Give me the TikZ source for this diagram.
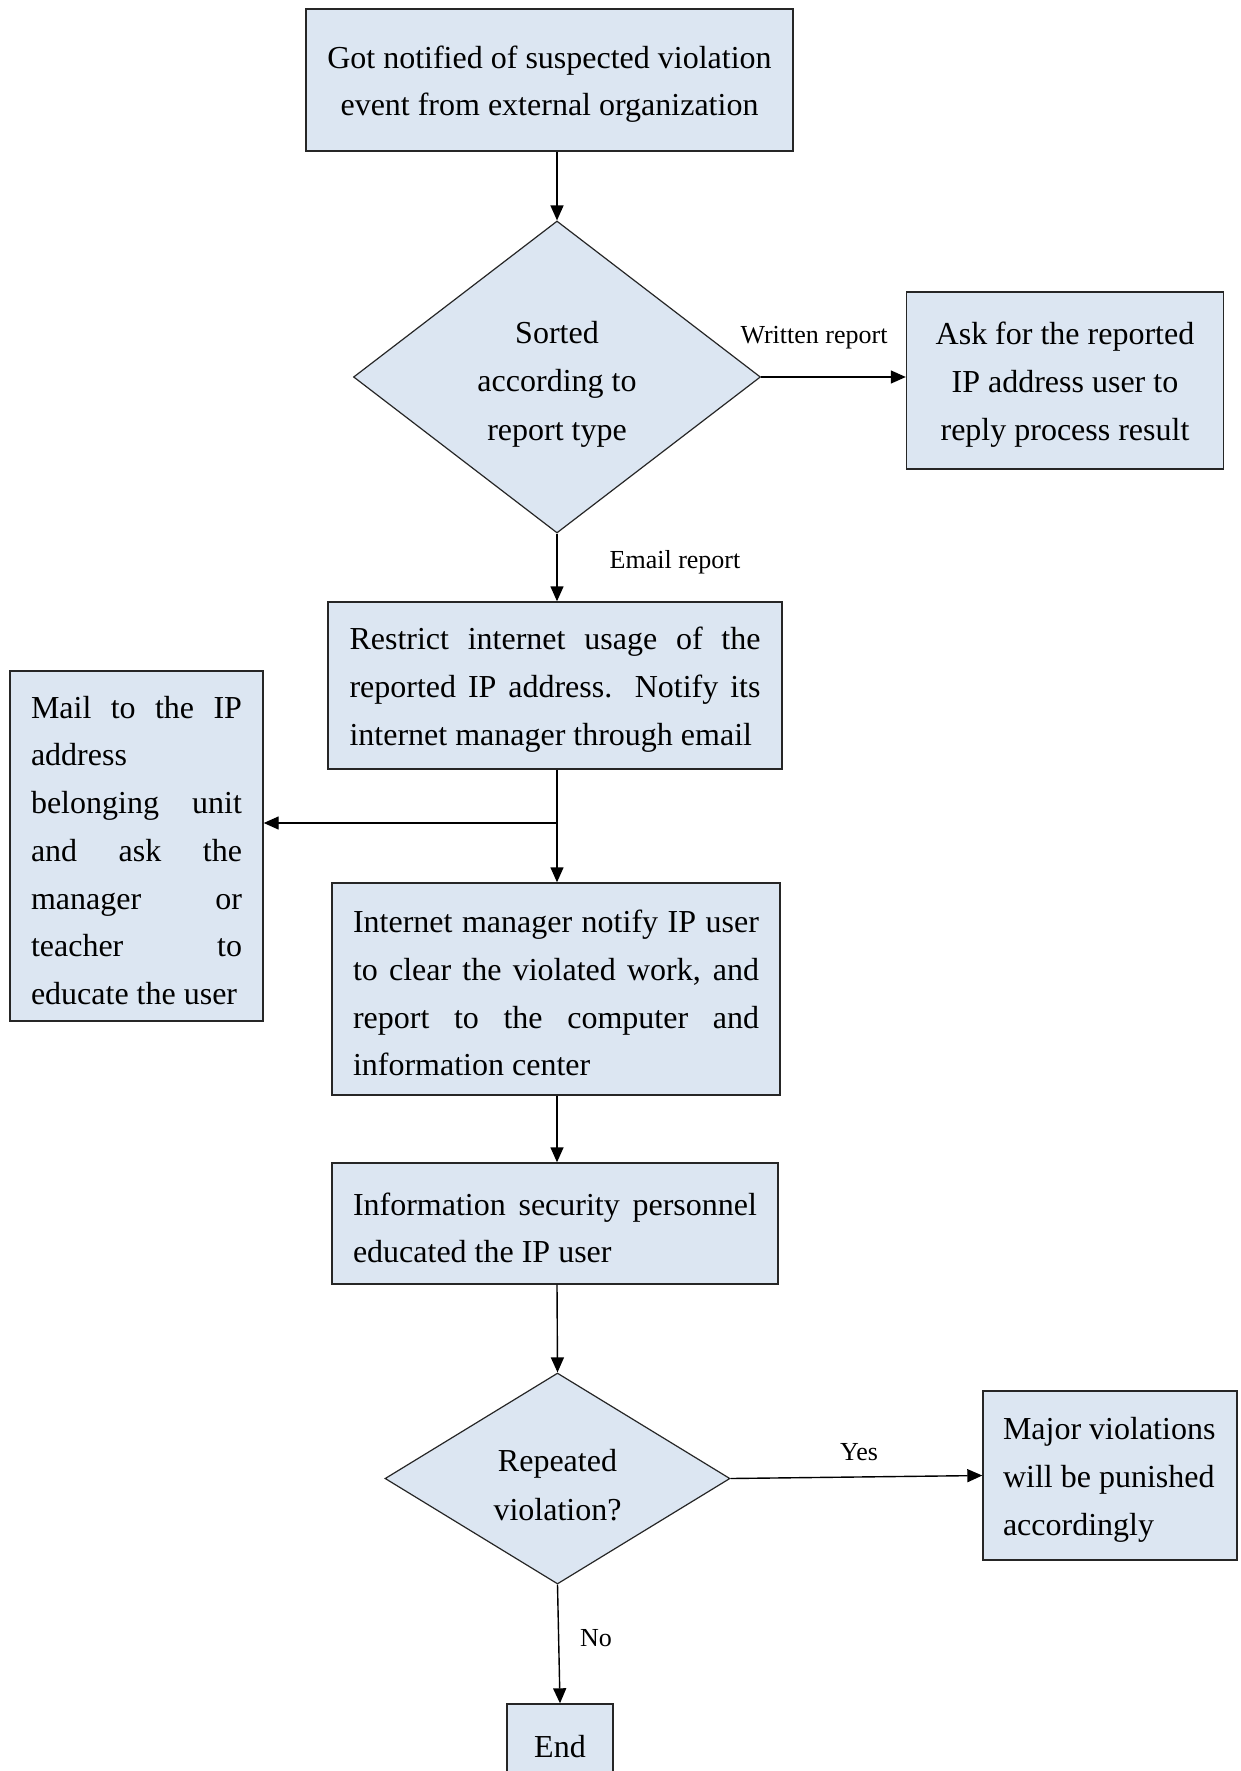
\documentclass[tikz,border=0pt]{standalone}
\usepackage{fontspec}
\setmainfont{Liberation Serif}
\usetikzlibrary{shapes.geometric,arrows.meta}
\definecolor{boxfill}{HTML}{DCE6F2}
\definecolor{boxline}{HTML}{262626}
\setlength{\parindent}{0pt}
\newcommand{\jline}[2]{{\spaceskip=0pt\relax\xspaceskip=0pt\relax\makebox[#1][s]{#2}}}
\newcommand{\tr}{\rule{0pt}{31pt}}
\begin{document}
\begin{tikzpicture}[x=1pt,y=-1pt,
  box/.style={rectangle, draw=boxline, fill=boxfill, line width=1.4pt, inner sep=0pt,
    font=\fontsize{32}{47.7}\selectfont},
  dec/.style={diamond, draw=boxline, fill=boxfill, line width=1.2pt, inner sep=0pt},
  dtext/.style={align=flush center, inner sep=0pt, text width=300pt, font=\fontsize{32}{48.5}\selectfont},
  conn/.style={line width=1.4pt, -{Triangle[length=15pt,width=13pt]}},
  lab/.style={font=\fontsize{26}{30}\selectfont, inner sep=0pt}]
\clip (0,0) rectangle (1240,1771);
\fill[white] (0,0) rectangle (1240,1771);

\node[box, minimum width=487pt, minimum height=142pt, text width=480pt, align=flush center] (top) at (549.5,80)
  {\tr Got notified of suspected violation\\event from external organization};
\node[dec, minimum width=407pt, minimum height=312pt] (d1) at (557,377) {};
\node[dtext] (d1t) at (557,384) {Sorted\\according to\\report type};
\node[box, minimum width=317pt, minimum height=177pt, text width=310pt, align=flush center] (ask) at (1065,380.5)
  {\tr Ask for the reported\\IP address user to\\reply process result};
\node[box, minimum width=454pt, minimum height=167pt, text width=411pt, align=flush left] (restrict) at (555,685.5)
  {\tr\jline{411pt}{Restrict internet usage of the}\\\jline{411pt}{reported IP address. Notify its}\\\mbox{internet manager through email}};
\node[box, minimum width=253pt, minimum height=350pt, text width=211pt, align=flush left] (mail) at (136.5,846)
  {\tr\jline{211pt}{Mail to the IP}\\address\\\jline{211pt}{belonging unit}\\\jline{211pt}{and ask the}\\\jline{211pt}{manager or}\\\jline{211pt}{teacher to}\\\mbox{educate the user}};
\node[box, minimum width=448pt, minimum height=212pt, text width=406pt, align=flush left] (inet) at (556,989)
  {\tr\jline{406pt}{Internet manager notify IP user}\\\jline{406pt}{to clear the violated work, and}\\\jline{406pt}{report to the computer and}\\\mbox{information center}};
\node[box, minimum width=446pt, minimum height=121pt, text width=404pt, align=flush left] (info) at (555,1223.5)
  {\tr\jline{404pt}{Information security personnel}\\\mbox{educated the IP user}};
\node[dec, minimum width=345pt, minimum height=211pt] (d2) at (557.5,1478.5) {};
\node[dtext] (d2t) at (557.5,1485) {Repeated\\violation?};
\node[box, minimum width=254pt, minimum height=169pt, text width=214pt, align=flush left] (major) at (1110,1475.5)
  {\tr\mbox{Major violations}\\\mbox{will be punished}\\\mbox{accordingly}};
\node[box, minimum width=106pt, minimum height=86pt] (end) at (560,1747) {End};

\coordinate (br) at (557,823);
\draw[conn] (top.south -| d1.north) -- (d1.north);
\draw[conn] (d1.east) -- (d1.east -| ask.west);
\draw[conn] (d1.south) -- (d1.south |- restrict.north);
\draw[conn] (restrict.south -| br) -- (inet.north -| br);
\draw[conn] (br) -- (br -| mail.east);
\draw[conn] (inet.south -| br) -- (info.north -| br);
\draw[conn] (info.south -| br) -- (d2.north);
\draw[conn] (d2.east) -- (major.west);
\draw[conn] (d2.south) -- (end.north);

\node[lab] (wr) at (814,338) {Written report};
\node[lab] (er) at (675,562) {Email report};
\node[lab] (yes) at (859,1452) {Yes};
\node[lab] (no) at (596,1638) {No};
\end{tikzpicture}
\end{document}
